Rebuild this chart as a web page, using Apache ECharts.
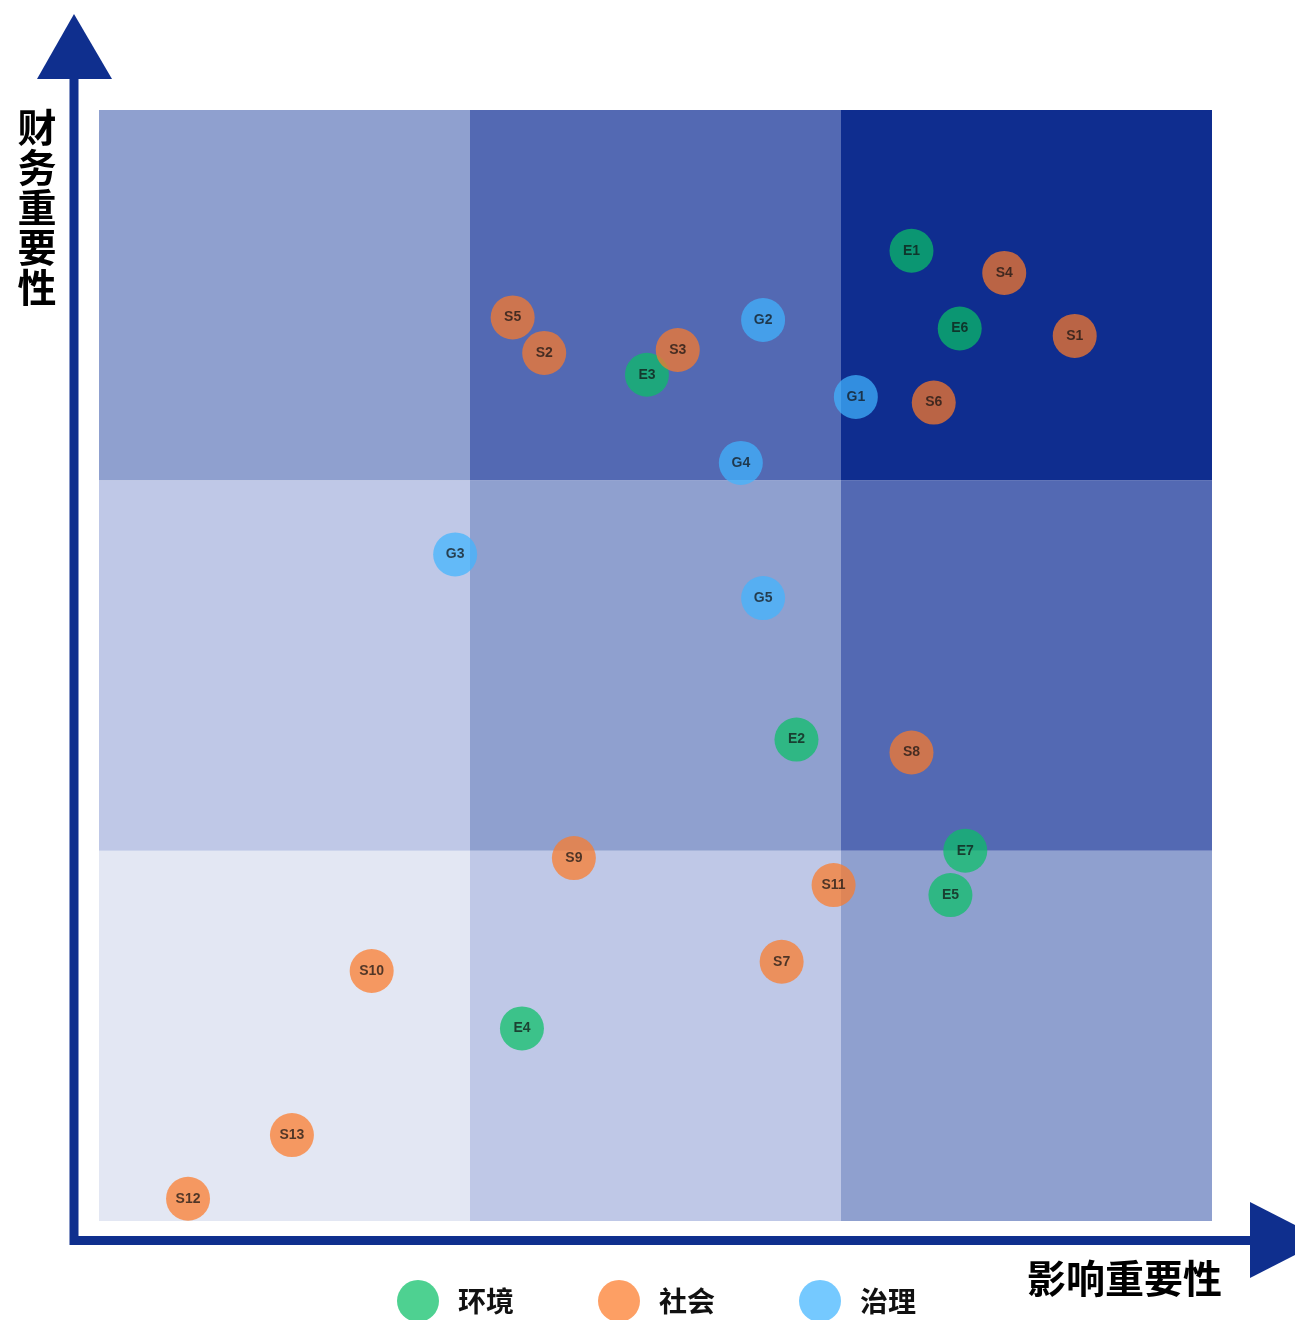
<!DOCTYPE html>
<html>
<head>
<meta charset="utf-8">
<script src="https://cdn.jsdelivr.net/npm/echarts@6/dist/echarts.min.js"></script>
<style>
html,body{margin:0;padding:0;background:#fff;}
#chart{width:1295px;height:1320px;}
</style>
</head>
<body>
<div id="chart"></div>
<script>
// ---- data ----
const seriesNames = ['环境', '社会', '治理'];
const envNames = ['E1', 'E2', 'E3', 'E4', 'E5', 'E6', 'E7'];
const envImpact = [2.19, 1.88, 1.477, 1.14, 2.295, 2.32, 2.335];
const envFinance = [2.62, 1.30, 2.285, 0.52, 0.88, 2.41, 1.00];

const socNames = ['S1', 'S2', 'S3', 'S4', 'S5', 'S6', 'S7', 'S8', 'S9', 'S10', 'S11', 'S12', 'S13'];
const socImpact = [2.63, 1.20, 1.56, 2.44, 1.115, 2.25, 1.84, 2.19, 1.28, 0.735, 1.98, 0.24, 0.52];
const socFinance = [2.39, 2.344, 2.352, 2.56, 2.44, 2.21, 0.70, 1.265, 0.98, 0.675, 0.907, 0.06, 0.232];

const govNames = ['G1', 'G2', 'G3', 'G4', 'G5'];
const govImpact = [2.04, 1.79, 0.96, 1.73, 1.79];
const govFinance = [2.225, 2.433, 1.80, 2.047, 1.682];

const zoneCount = 3; // 3 x 3 grid of zones
const xTitle = '影响重要性';
const yTitle = '财务重要性';

// ---- styles ----
const pointColors = ['#0abf67', '#fc7a28', '#40b4ff'];
const zoneColors = ['#e3e7f3', '#bfc8e7', '#8fa0cf', '#5369b3', '#0f2d8f'];
const axisColor = '#0f2f8e';

const zones = [];
for (let c = 0; c < zoneCount; c++) {
  for (let r = 0; r < zoneCount; r++) {
    zones.push([c, r, c + r]);
  }
}

function pts(names, xs, ys) {
  return names.map((n, i) => ({ name: n, value: [xs[i], ys[i]] }));
}

function scatter(name, data, color) {
  return {
    name: name,
    type: 'scatter',
    z: 3,
    symbol: 'circle',
    symbolSize: 44,
    data: data,
    itemStyle: { color: color, opacity: 0.72 },
    label: {
      show: true,
      position: 'inside',
      formatter: '{b}',
      color: '#111',
      fontSize: 14,
      fontWeight: 'bold',
      fontFamily: '"Liberation Sans", Arial, sans-serif'
    },
    emphasis: { disabled: true }
  };
}

const chart = echarts.init(document.getElementById('chart'), null, { renderer: 'canvas' });
chart.setOption({
  animation: false,
  backgroundColor: '#fff',
  grid: { left: 99, top: 110, width: 1113, height: 1111 },
  xAxis: {
    type: 'value', min: 0, max: zoneCount, interval: 1,
    show: false
  },
  yAxis: {
    type: 'value', min: 0, max: zoneCount, interval: 1,
    show: false
  },
  legend: {
    data: seriesNames,
    left: 392,
    top: 1275,
    icon: 'circle',
    itemWidth: 70,
    itemHeight: 42,
    itemGap: 84,
    itemStyle: { opacity: 0.72 },
    textStyle: {
      fontSize: 28,
      fontWeight: 'bold',
      color: '#111',
      fontFamily: '"Noto Sans CJK SC", sans-serif'
    }
  },
  graphic: [
    // vertical axis arrow
    { type: 'line', shape: { x1: 74, y1: 76, x2: 74, y2: 1245 }, style: { stroke: axisColor, lineWidth: 9 }, z: 10 },
    { type: 'polygon', shape: { points: [[74, 14], [37, 79], [112, 79]] }, style: { fill: axisColor }, z: 10 },
    // horizontal axis arrow
    { type: 'line', shape: { x1: 70, y1: 1240.5, x2: 1252, y2: 1240.5 }, style: { stroke: axisColor, lineWidth: 9 }, z: 10 },
    { type: 'polygon', shape: { points: [[1250, 1202], [1250, 1278], [1324, 1240]] }, style: { fill: axisColor }, z: 10 },
    // axis titles
    {
      type: 'text', x: 37, y: 107, z: 10,
      style: {
        text: yTitle.split('').join('\n'),
        fill: '#000',
        font: 'bold 39px "Noto Sans CJK SC", sans-serif',
        lineHeight: 40,
        align: 'center',
        verticalAlign: 'top'
      }
    },
    {
      type: 'text', x: 1027, y: 1278, z: 10,
      style: {
        text: xTitle,
        fill: '#000',
        font: 'bold 39px "Noto Sans CJK SC", sans-serif',
        align: 'left',
        verticalAlign: 'middle'
      }
    }
  ],
  series: [
    {
      type: 'custom',
      z: 1,
      silent: true,
      data: zones,
      renderItem: function (params, api) {
        const c = api.value(0), r = api.value(1), lvl = api.value(2);
        const p0 = api.coord([c, r + 1]);
        const p1 = api.coord([c + 1, r]);
        return {
          type: 'rect',
          shape: { x: p0[0], y: p0[1], width: p1[0] - p0[0], height: p1[1] - p0[1] },
          style: { fill: zoneColors[lvl] }
        };
      }
    },
    scatter(seriesNames[0], pts(envNames, envImpact, envFinance), pointColors[0]),
    scatter(seriesNames[1], pts(socNames, socImpact, socFinance), pointColors[1]),
    scatter(seriesNames[2], pts(govNames, govImpact, govFinance), pointColors[2])
  ]
});
</script>
</body>
</html>
